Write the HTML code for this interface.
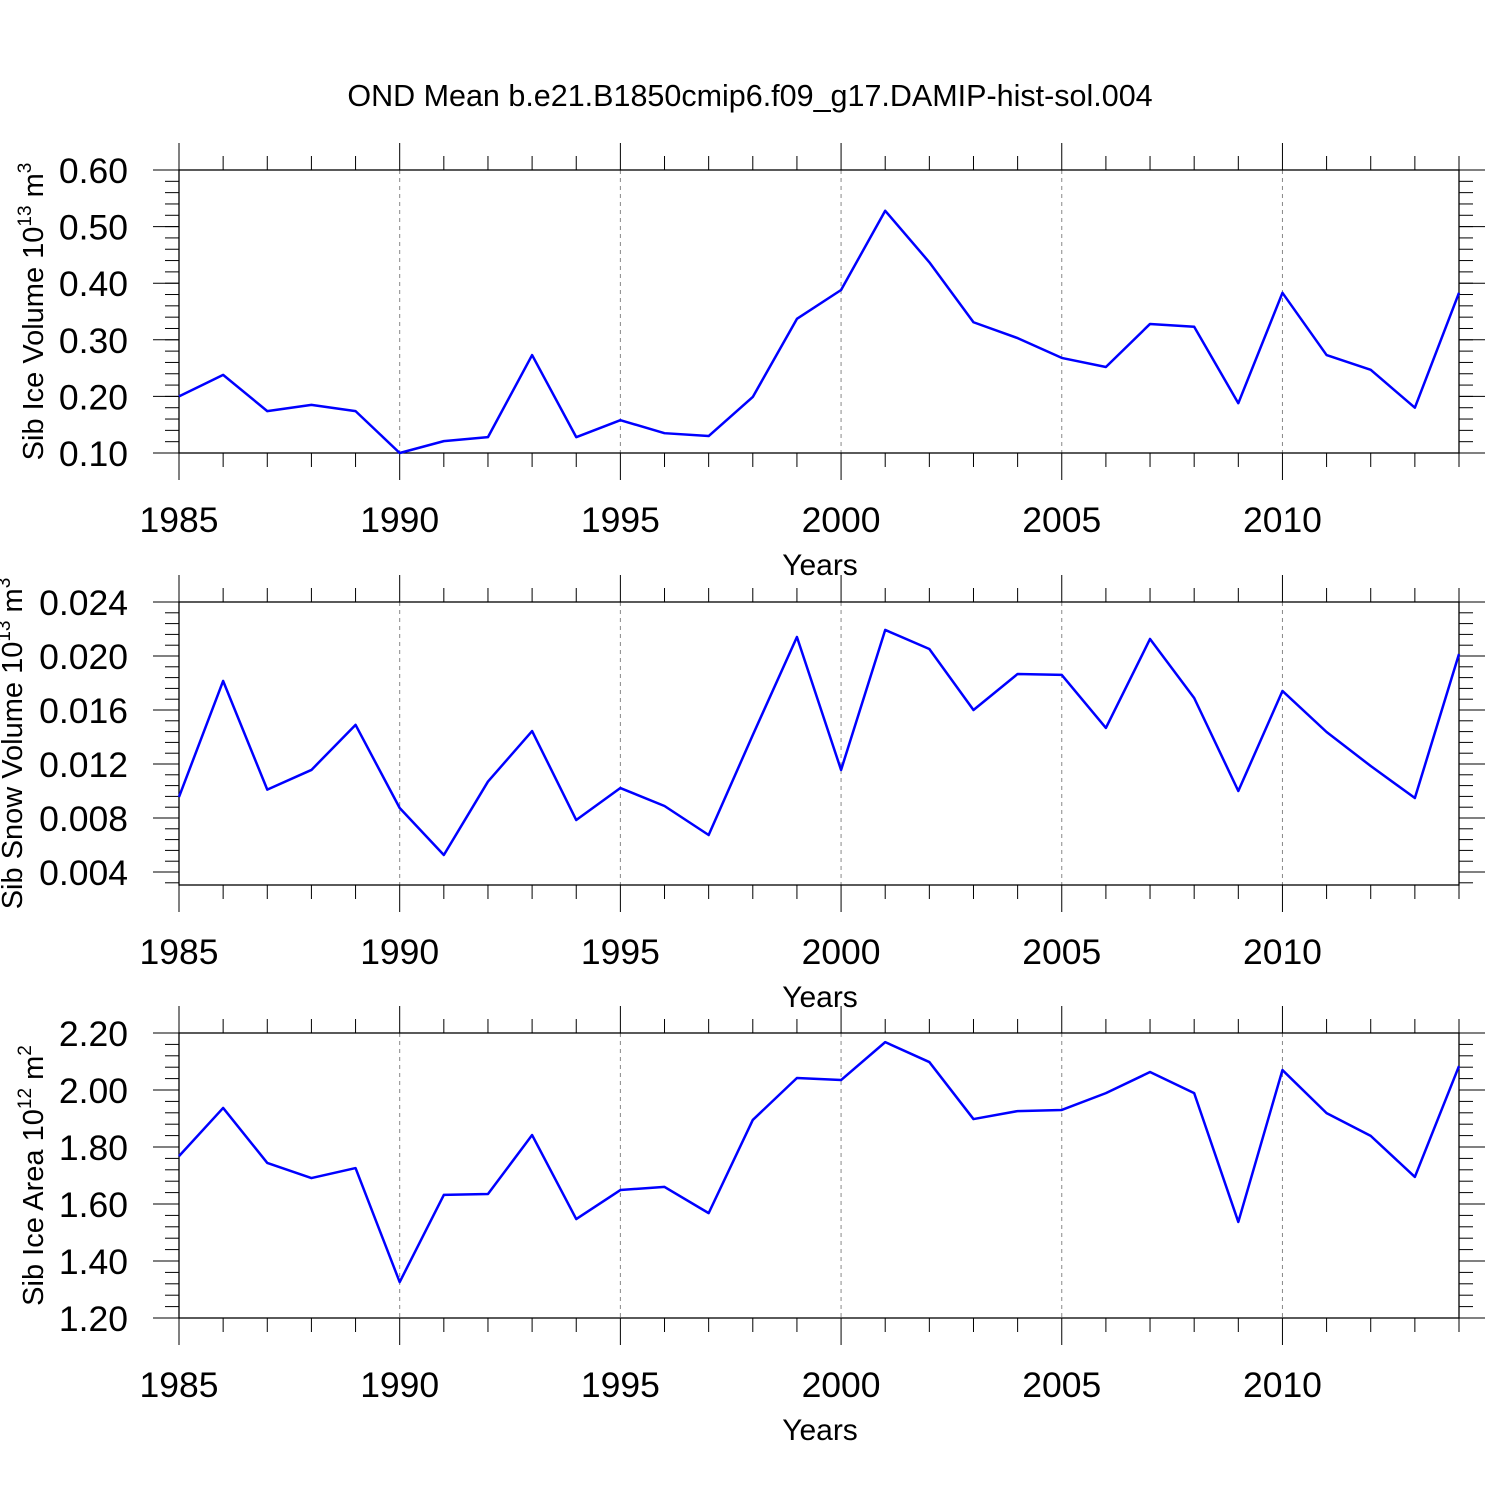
<!DOCTYPE html>
<html><head><meta charset="utf-8"><style>
body{margin:0;background:#fff}
svg text{font-family:"Liberation Sans",sans-serif;fill:#000}
</style></head><body>
<svg id="c" width="1500" height="1500" xmlns="http://www.w3.org/2000/svg">
<rect width="1500" height="1500" fill="#fff"/>
<text x="750" y="106" font-size="30.5" text-anchor="middle">OND Mean b.e21.B1850cmip6.f09_g17.DAMIP-hist-sol.004</text>
</svg>
<script>
const years=[1985,1986,1987,1988,1989,1990,1991,1992,1993,1994,1995,1996,1997,1998,1999,2000,2001,2002,2003,2004,2005,2006,2007,2008,2009,2010,2011,2012,2013,2014];
const iceVolume=[0.200,0.238,0.174,0.185,0.174,0.100,0.121,0.128,0.273,0.128,0.158,0.135,0.130,0.199,0.337,0.388,0.528,0.437,0.331,0.303,0.268,0.252,0.328,0.323,0.188,0.383,0.273,0.247,0.180,0.383];
const snowVolume=[0.00956,0.01815,0.0101,0.01156,0.0149,0.00874,0.00526,0.0107,0.01444,0.00785,0.01022,0.00889,0.00674,0.01415,0.02141,0.01156,0.02193,0.02052,0.0160,0.01867,0.0186,0.01467,0.02126,0.01689,0.0100,0.01741,0.01437,0.01185,0.00948,0.02015];
const iceArea=[1.768,1.937,1.744,1.691,1.726,1.326,1.632,1.635,1.842,1.547,1.649,1.660,1.568,1.895,2.042,2.035,2.168,2.098,1.898,1.926,1.930,1.989,2.063,1.989,1.537,2.070,1.919,1.839,1.695,2.084];
const xTicks=[1985,1990,1995,2000,2005,2010];
const ticks1=["0.10","0.20","0.30","0.40","0.50","0.60"];
const ticks2=["0.004","0.008","0.012","0.016","0.020","0.024"];
const ticks3=["1.20","1.40","1.60","1.80","2.00","2.20"];
const svg=document.getElementById('c');
const NS='http://www.w3.org/2000/svg';
function mk(t,a){const e=document.createElementNS(NS,t);for(const k in a)e.setAttribute(k,a[k]);svg.appendChild(e);return e;}
const X0=179,X1=1459;
const xs=y=>X0+(y-1985)*(X1-X0)/29;
function panel(id,top,bot,vmin,vmax,ymin,ymax,minorStep,ticks,data,titleParts,titleX){
  const ys=v=>bot-(v-vmin)*(bot-top)/(vmax-vmin);
  const g=mk('g',{});
  
  
  xTicks.forEach(y=>{if(y>1985){const l=mk('line',{x1:xs(y),x2:xs(y),y1:top,y2:bot,stroke:'#888','stroke-width':1,'stroke-dasharray':'4,4'});
    
    }});
  years.forEach(y=>{const maj=xTicks.includes(y);const L=maj?27:14;const x=xs(y);
    mk('line',{x1:x,x2:x,y1:top-L,y2:top,stroke:'#000','stroke-width':1});
    mk('line',{x1:x,x2:x,y1:bot,y2:bot+L,stroke:'#000','stroke-width':1});
    if(maj){const t=mk('text',{x:x,y:bot+79,'font-size':35.5,'text-anchor':'middle'});t.textContent=y;
      
      }});
  const n=Math.round((ymax-ymin)/minorStep);
  for(let i=0;i<=n;i++){const v=ymin+i*minorStep;const y=ys(v);if(y<top-0.5||y>bot+0.5)continue;
    mk('line',{x1:X0-14,x2:X0,y1:y,y2:y,stroke:'#000','stroke-width':1});
    mk('line',{x1:X1,x2:X1+14,y1:y,y2:y,stroke:'#000','stroke-width':1});}
  ticks.forEach(s=>{const v=parseFloat(s);const y=ys(v);
    mk('line',{x1:X0-26,x2:X0,y1:y,y2:y,stroke:'#000','stroke-width':1});
    mk('line',{x1:X1,x2:X1+26,y1:y,y2:y,stroke:'#000','stroke-width':1});
    const t=mk('text',{x:128,y:y+13,'font-size':35.5,'text-anchor':'end'});t.textContent=s;
    
    });
  const f=mk('rect',{x:X0,y:top,width:X1-X0,height:bot-top,fill:'none',stroke:'#000','stroke-width':1.3});
  
  
  const p=mk('polyline',{points:data.map((v,i)=>xs(years[i])+','+ys(v)).join(' '),fill:'none',stroke:'#0000ff','stroke-width':2.5,'stroke-linejoin':'round'});
  
  
  const xt=mk('text',{x:820,y:bot+122,'font-size':30,'text-anchor':'middle'});xt.textContent='Years';
  
  
  const cy=(top+bot)/2;
  const yt=mk('text',{x:0,y:0,'font-size':29,'text-anchor':'middle',transform:`translate(${titleX},${cy}) rotate(-90)`});
  yt.innerHTML=titleParts;
  
  
}
panel('ice-volume',170,453,0.10,0.60,0.10,0.60,0.02,ticks1,iceVolume,'Sib Ice Volume 10<tspan font-size="19" dy="-12">13</tspan><tspan dy="12"> m</tspan><tspan font-size="19" dy="-12">3</tspan>',43);
panel('snow-volume',602,885,0.024-(885-602)/13500,0.024,0.0032,0.024,0.0008,ticks2,snowVolume,'Sib Snow Volume 10<tspan font-size="19" dy="-12">13</tspan><tspan dy="12"> m</tspan><tspan font-size="19" dy="-12">3</tspan>',22);
panel('ice-area',1033,1318,1.20,2.20,1.20,2.20,0.04,ticks3,iceArea,'Sib Ice Area 10<tspan font-size="19" dy="-12">12</tspan><tspan dy="12"> m</tspan><tspan font-size="19" dy="-12">2</tspan>',43);
</script>
</body></html>
